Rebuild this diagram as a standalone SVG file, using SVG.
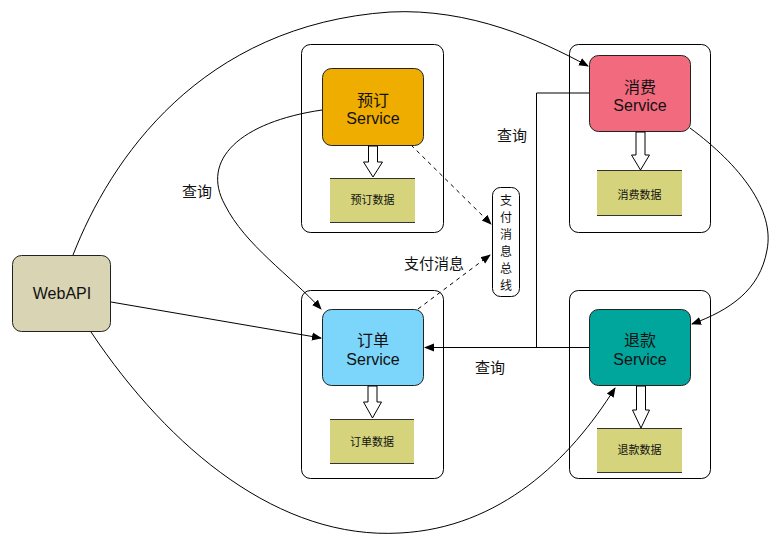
<svg xmlns="http://www.w3.org/2000/svg" width="779" height="547" viewBox="0 0 779 547">
<defs>
<style>
.cont{fill:#fff;stroke:#000;stroke-width:1}
.svc{stroke:#222;stroke-width:1}
.data{fill:#D5D47C}
.dline{stroke:#333;stroke-width:1}
.hollow{fill:#fff;stroke:#000;stroke-width:1}
.t{font-family:"Liberation Sans","Noto Sans CJK SC",sans-serif;fill:#111;text-anchor:middle}
.big{font-size:16px}
.small{font-size:11px}
.lbl{font-size:15px}
.bus{font-size:12px}
.edge{fill:none;stroke:#000;stroke-width:1}
.dash{stroke-dasharray:4 4}
</style>
<marker id="ah" viewBox="0 0 10 10" refX="9" refY="5" markerWidth="10" markerHeight="10" markerUnits="userSpaceOnUse" orient="auto">
<path d="M0,1 L10,5 L0,9 z" fill="#000"/>
</marker>
</defs>
<rect width="779" height="547" fill="#fff"/>

<g id="containers">
<rect class="cont" x="301.5" y="44.5" width="142" height="188" rx="9"/>
<rect class="cont" x="569.5" y="44.5" width="141" height="188" rx="9"/>
<rect class="cont" x="301.5" y="290.5" width="142" height="188" rx="9"/>
<rect class="cont" x="569.5" y="290.5" width="141" height="188" rx="9"/>
</g>

<g id="connectors">
<path class="edge" d="M73,255 C110,160 200,25 390,12 C470,8 540,40 588,66" marker-end="url(#ah)"/>
<path class="edge" d="M111,302 L321,338" marker-end="url(#ah)"/>
<path class="edge" d="M91,332 C170,450 280,540 400,533 C500,528 570,460 615,388" marker-end="url(#ah)"/>
<path class="edge" d="M322,110 C240,122 200,160 225,205 C245,245 290,275 321,309" marker-end="url(#ah)"/>
<path class="edge" d="M690,128 C740,165 775,210 767,250 C760,290 730,310 692,324" marker-end="url(#ah)"/>
<path class="edge dash" d="M411,145 L491,224" marker-end="url(#ah)"/>
<path class="edge dash" d="M418,309 L490,255" marker-end="url(#ah)"/>
<path class="edge" d="M589,93 L536.5,93 L536.5,347"/>
<path class="edge" d="M589,347.5 L425,347.5" marker-end="url(#ah)"/>
<text class="t lbl" x="197" y="197">查询</text>
<text class="t lbl" x="512" y="141">查询</text>
<text class="t lbl" x="490" y="373">查询</text>
<text class="t lbl" x="434" y="269">支付消息</text>
</g>

<g id="webapi">
<rect class="svc" x="12.5" y="255.5" width="98" height="76" rx="9" fill="#D9D4B3"/>
<text class="t big" x="62" y="299">WebAPI</text>
</g>

<g id="bus">
<rect x="492.5" y="187.5" width="27" height="109" rx="8" fill="#fff" stroke="#000"/>
<text class="t bus" x="506" y="205">支</text>
<text class="t bus" x="506" y="222">付</text>
<text class="t bus" x="506" y="239">消</text>
<text class="t bus" x="506" y="256">息</text>
<text class="t bus" x="506" y="273">总</text>
<text class="t bus" x="506" y="290">线</text>
</g>

<g id="yuding">
<rect class="svc" x="322.5" y="68.5" width="101" height="77" rx="9" fill="#EFAD00"/>
<text class="t big" x="373" y="106">预订</text>
<text class="t big" x="373" y="124">Service</text>
<path class="hollow" d="M368.5,146 L377.5,146 L377.5,162 L382.5,162 L373,177 L363.5,162 L368.5,162 Z"/>
<rect class="data" x="330" y="178" width="85" height="45"/>
<line class="dline" x1="330" y1="178.5" x2="415" y2="178.5"/>
<line class="dline" x1="330" y1="222.5" x2="415" y2="222.5"/>
<text class="t small" x="372.5" y="204">预订数据</text>
</g>

<g id="xiaofei">
<rect class="svc" x="589.5" y="55.5" width="101" height="76" rx="9" fill="#F26A7E"/>
<text class="t big" x="640" y="93">消费</text>
<text class="t big" x="640" y="111">Service</text>
<path class="hollow" d="M636,132 L645,132 L645,155 L649.5,155 L640.5,170 L631.5,155 L636,155 Z"/>
<rect class="data" x="597" y="170" width="85" height="46"/>
<line class="dline" x1="597" y1="170.5" x2="682" y2="170.5"/>
<line class="dline" x1="597" y1="215.5" x2="682" y2="215.5"/>
<text class="t small" x="639.5" y="199">消费数据</text>
</g>

<g id="dingdan">
<rect class="svc" x="322.5" y="309.5" width="101" height="76" rx="9" fill="#7CD5FA"/>
<text class="t big" x="373" y="346">订单</text>
<text class="t big" x="373" y="365">Service</text>
<path class="hollow" d="M368,386 L377,386 L377,402 L381.5,402 L372.5,418 L363.5,402 L368,402 Z"/>
<rect class="data" x="330" y="419" width="84" height="45"/>
<line class="dline" x1="330" y1="419.5" x2="414" y2="419.5"/>
<line class="dline" x1="330" y1="463.5" x2="414" y2="463.5"/>
<text class="t small" x="372" y="446">订单数据</text>
</g>

<g id="tuikuan">
<rect class="svc" x="589.5" y="309.5" width="101" height="76" rx="9" fill="#00A59B"/>
<text class="t big" x="640" y="346">退款</text>
<text class="t big" x="640" y="365">Service</text>
<path class="hollow" d="M636.5,386 L645.5,386 L645.5,410 L649.5,410 L641,428 L632.5,410 L636.5,410 Z"/>
<rect class="data" x="597" y="428" width="85" height="45"/>
<line class="dline" x1="597" y1="428.5" x2="682" y2="428.5"/>
<line class="dline" x1="597" y1="472.5" x2="682" y2="472.5"/>
<text class="t small" x="639.5" y="454">退款数据</text>
</g>
</svg>
